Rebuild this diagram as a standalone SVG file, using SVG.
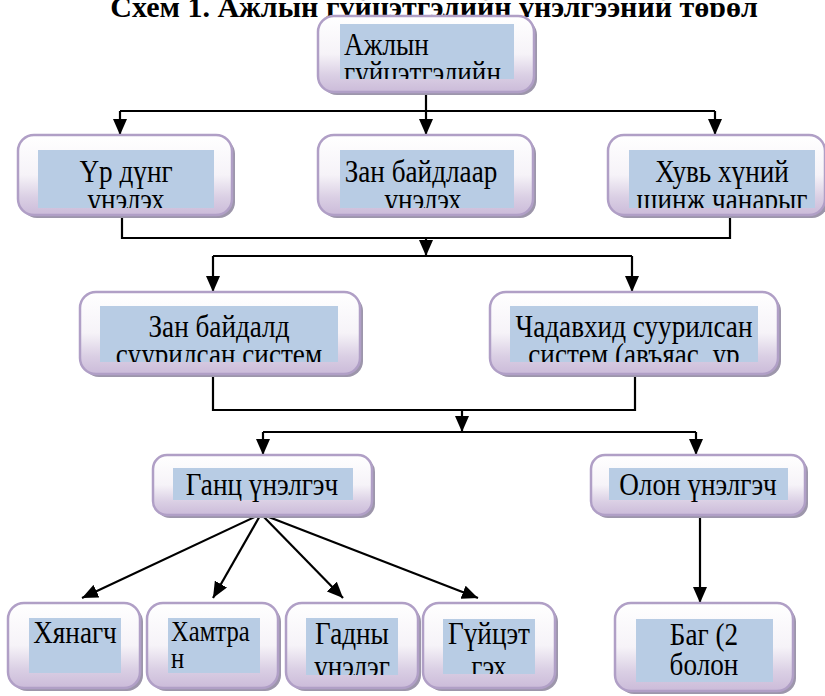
<svg xmlns="http://www.w3.org/2000/svg" width="825" height="696" viewBox="0 0 825 696">
<style>
.box{fill:url(#g);stroke:#b09fc6;stroke-width:2.5}
.sh{fill:#9d96ab}
.in{fill:#b8cce4}
.t{font-family:"Liberation Serif","Times New Roman",serif;font-size:32px;fill:#000}
.title{font-family:"Liberation Serif","Times New Roman",serif;font-size:30px;font-weight:bold;fill:#000}
.ln{fill:none;stroke:#000;stroke-width:2.2}
.ar{fill:none;stroke:#000;stroke-width:2.2;marker-end:url(#ah)}
</style>
<defs>
<linearGradient id="g" x1="0" y1="0" x2="0" y2="1">
<stop offset="0" stop-color="#ffffff"/>
<stop offset="0.5" stop-color="#f6f3f8"/>
<stop offset="0.78" stop-color="#dacfe4"/>
<stop offset="1" stop-color="#cbbbd9"/>
</linearGradient>
<marker id="ah" viewBox="0 0 16 14" refX="16" refY="7" markerWidth="16" markerHeight="14" markerUnits="userSpaceOnUse" orient="auto"><path d="M0,0 L16,7 L0,14 z" fill="#000"/></marker>
<clipPath id="ct"><rect x="0" y="0" width="825" height="17"/></clipPath>
<clipPath id="c0"><rect x="340" y="24" width="174" height="55"/></clipPath>
<clipPath id="c1"><rect x="38" y="150" width="176" height="58"/></clipPath>
<clipPath id="c2"><rect x="340" y="150" width="174" height="58"/></clipPath>
<clipPath id="c3"><rect x="629" y="150" width="186" height="58"/></clipPath>
<clipPath id="c4"><rect x="100" y="306" width="238" height="56"/></clipPath>
<clipPath id="c5"><rect x="510" y="306" width="248" height="56"/></clipPath>
<clipPath id="c8"><rect x="29" y="618" width="92" height="55"/></clipPath>
<clipPath id="c9"><rect x="168" y="618" width="92" height="55"/></clipPath>
<clipPath id="c10"><rect x="306" y="618" width="92" height="57"/></clipPath>
<clipPath id="c11"><rect x="443" y="619" width="92" height="55"/></clipPath>
<clipPath id="c12"><rect x="636" y="619" width="137" height="63"/></clipPath>
</defs>
<rect width="825" height="696" fill="#fff"/>
<g clip-path="url(#ct)"><text class="title" x="434" y="17" text-anchor="middle">Схем 1. Ажлын гүйцэтгэлийн үнэлгээний төрөл</text></g>

<g id="connectors">
<path class="ln" d="M426,92 V111 M120,111 H715"/>
<path class="ar" d="M120,111 V135"/>
<path class="ar" d="M426,111 V135"/>
<path class="ar" d="M715,111 V135"/>
<path class="ln" d="M122,215 V238 H730 V215"/>
<path class="ar" d="M426,238 V256"/>
<path class="ln" d="M213,256 H632"/>
<path class="ar" d="M213,256 V292"/>
<path class="ar" d="M632,256 V292"/>
<path class="ln" d="M213,374 V410 H635 V374"/>
<path class="ar" d="M462,410 V432"/>
<path class="ln" d="M263,432 H696"/>
<path class="ar" d="M263,432 V455"/>
<path class="ar" d="M696,432 V455"/>
<path class="ar" d="M261,514 L82,598"/>
<path class="ar" d="M261,514 L213,598"/>
<path class="ar" d="M261,514 L343,598"/>
<path class="ar" d="M261,514 L478,598"/>
<path class="ar" d="M700,515 V603"/>
</g>

<g id="n0">
<rect class="sh" x="321" y="19" width="216" height="76" rx="16"/>
<rect class="box" x="318" y="16" width="216" height="76" rx="16"/>
<rect class="in" x="340" y="24" width="174" height="55"/>
<g clip-path="url(#c0)"><text class="t" transform="translate(344,0) scale(0.85,1)" y="55">Ажлын</text><text class="t" transform="translate(344,0) scale(0.85,1)" y="83">гүйцэтгэлийн</text></g>
</g>

<g id="n1">
<rect class="sh" x="21" y="138" width="214" height="80" rx="16"/>
<rect class="box" x="18" y="135" width="214" height="80" rx="16"/>
<rect class="in" x="38" y="150" width="176" height="58"/>
<g clip-path="url(#c1)" text-anchor="middle"><text class="t" transform="translate(126,0) scale(0.85,1)" y="182">Үр дүнг</text><text class="t" transform="translate(126,0) scale(0.85,1)" y="210">үнэлэх</text></g>
</g>

<g id="n2">
<rect class="sh" x="321" y="138" width="215" height="80" rx="16"/>
<rect class="box" x="318" y="135" width="215" height="80" rx="16"/>
<rect class="in" x="340" y="150" width="174" height="58"/>
<g clip-path="url(#c2)" text-anchor="middle"><text class="t" transform="translate(421,0) scale(0.85,1)" y="182">Зан байдлаар</text><text class="t" transform="translate(423,0) scale(0.85,1)" y="210">үнэлэх</text></g>
</g>

<g id="n3">
<rect class="sh" x="611" y="138" width="217" height="80" rx="16"/>
<rect class="box" x="608" y="135" width="217" height="80" rx="16"/>
<rect class="in" x="629" y="150" width="186" height="58"/>
<g clip-path="url(#c3)" text-anchor="middle"><text class="t" transform="translate(722,0) scale(0.85,1)" y="182">Хувь хүний</text><text class="t" transform="translate(722,0) scale(0.85,1)" y="210">шинж чанарыг</text></g>
</g>

<g id="n4">
<rect class="sh" x="83" y="295" width="280" height="82" rx="16"/>
<rect class="box" x="80" y="292" width="280" height="82" rx="16"/>
<rect class="in" x="100" y="306" width="238" height="56"/>
<g clip-path="url(#c4)" text-anchor="middle"><text class="t" transform="translate(219,0) scale(0.85,1)" y="337">Зан байдалд</text><text class="t" transform="translate(219,0) scale(0.85,1)" y="365">суурилсан систем</text></g>
</g>

<g id="n5">
<rect class="sh" x="493" y="295" width="288" height="82" rx="16"/>
<rect class="box" x="490" y="292" width="288" height="82" rx="16"/>
<rect class="in" x="510" y="306" width="248" height="56"/>
<g clip-path="url(#c5)" text-anchor="middle"><text class="t" transform="translate(634,0) scale(0.85,1)" y="337">Чадавхид суурилсан</text><text class="t" transform="translate(634,0) scale(0.85,1)" y="365">систем (авъяас, ур</text></g>
</g>

<g id="n6">
<rect class="sh" x="156" y="458" width="219" height="60" rx="14"/>
<rect class="box" x="153" y="455" width="219" height="60" rx="14"/>
<rect class="in" x="173" y="468" width="180" height="32"/>
<text class="t" transform="translate(262,0) scale(0.85,1)" y="495" text-anchor="middle">Ганц үнэлгэч</text>
</g>

<g id="n7">
<rect class="sh" x="594" y="458" width="214" height="60" rx="14"/>
<rect class="box" x="591" y="455" width="214" height="60" rx="14"/>
<rect class="in" x="609" y="468" width="179" height="32"/>
<text class="t" transform="translate(698,0) scale(0.85,1)" y="495" text-anchor="middle">Олон үнэлгэч</text>
</g>

<g id="n8">
<rect class="sh" x="11" y="606" width="132" height="85" rx="16"/>
<rect class="box" x="8" y="603" width="132" height="85" rx="16"/>
<rect class="in" x="29" y="618" width="92" height="55"/>
<g clip-path="url(#c8)"><text class="t" transform="translate(75,0) scale(0.85,1)" y="643" text-anchor="middle">Хянагч</text></g>
</g>

<g id="n9">
<rect class="sh" x="150" y="606" width="131" height="85" rx="16"/>
<rect class="box" x="147" y="603" width="131" height="85" rx="16"/>
<rect class="in" x="168" y="618" width="92" height="55"/>
<g clip-path="url(#c9)"><text class="t" style="font-size:29px" transform="translate(171,0) scale(0.85,1)" y="641">Хамтра</text><text class="t" style="font-size:29px" transform="translate(171,0) scale(0.85,1)" y="668">н</text></g>
</g>

<g id="n10">
<rect class="sh" x="289" y="606" width="132" height="85" rx="16"/>
<rect class="box" x="286" y="603" width="132" height="85" rx="16"/>
<rect class="in" x="306" y="618" width="92" height="57"/>
<g clip-path="url(#c10)" text-anchor="middle"><text class="t" transform="translate(352,0) scale(0.85,1)" y="644">Гадны</text><text class="t" transform="translate(352,0) scale(0.85,1)" y="677">үнэлэг</text></g>
</g>

<g id="n11">
<rect class="sh" x="426" y="606" width="132" height="85" rx="16"/>
<rect class="box" x="423" y="603" width="132" height="85" rx="16"/>
<rect class="in" x="443" y="619" width="92" height="55"/>
<g clip-path="url(#c11)" text-anchor="middle"><text class="t" transform="translate(489,0) scale(0.85,1)" y="644">Гүйцэт</text><text class="t" transform="translate(489,0) scale(0.85,1)" y="677">гэх</text></g>
</g>

<g id="n12">
<rect class="sh" x="618" y="606" width="178" height="88" rx="16"/>
<rect class="box" x="615" y="603" width="178" height="88" rx="16"/>
<rect class="in" x="636" y="619" width="137" height="63"/>
<g clip-path="url(#c12)" text-anchor="middle"><text class="t" transform="translate(704,0) scale(0.85,1)" y="645">Баг (2</text><text class="t" transform="translate(704,0) scale(0.85,1)" y="675">болон</text></g>
</g>
</svg>
